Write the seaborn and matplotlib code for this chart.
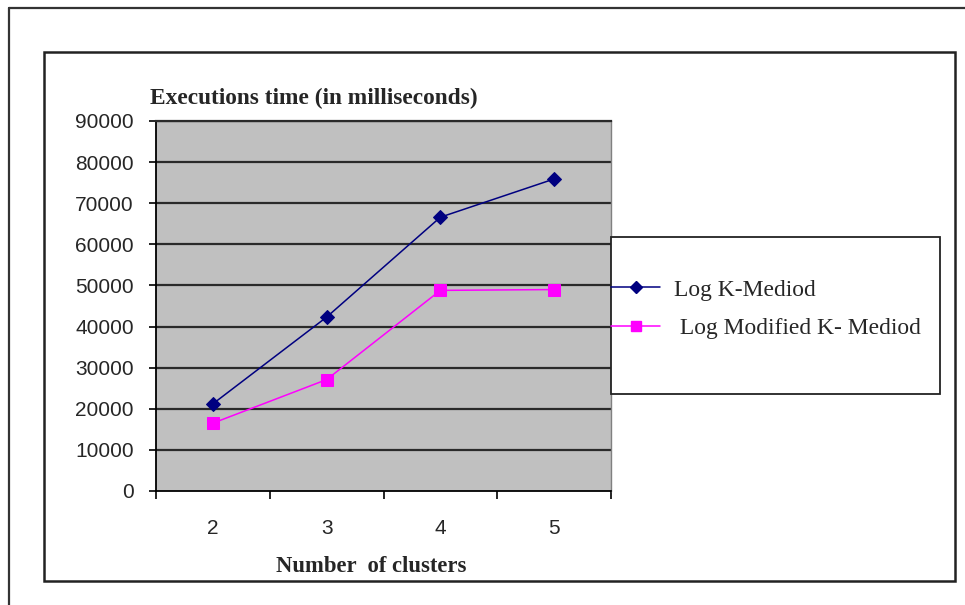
import matplotlib.pyplot as plt
import matplotlib.lines as mlines
import matplotlib.patches as mpatches
import pandas as pd
import seaborn as sns

CLUSTERS = [2, 3, 4, 5]
K_MEDIOD = [21200, 42300, 66600, 75900]
MOD_K_MEDIOD = [16500, 27100, 48800, 49000]
SERIES = ["Log K-Mediod", " Log Modified K- Mediod"]
Y_TICKS = [0, 10000, 20000, 30000, 40000, 50000, 60000, 70000, 80000, 90000]

COLORS = {SERIES[0]: "#000080", SERIES[1]: "#FF00FF"}
MARKERS = {SERIES[0]: "D", SERIES[1]: "s"}
SIZES = {SERIES[0]: 7, SERIES[1]: 8}

W, H = 965, 605


def fx(px):
    return px / W


def fy(py):
    return 1 - py / H


def main():
    df = pd.DataFrame({
        "clusters": CLUSTERS * 2,
        "time": K_MEDIOD + MOD_K_MEDIOD,
        "series": [SERIES[0]] * 4 + [SERIES[1]] * 4,
    })

    sns.set_style("white")
    fig = plt.figure(figsize=(W / 100, H / 100), dpi=100)
    ax = fig.add_axes([fx(156), fy(491), fx(611) - fx(156), fy(121) - fy(491)])
    ax.set_facecolor("#C0C0C0")

    for name in SERIES:
        sub = df[df["series"] == name]
        sns.lineplot(
            data=sub, x="clusters", y="time", ax=ax,
            color=COLORS[name], marker=MARKERS[name], markersize=SIZES[name],
            markeredgecolor=COLORS[name], linewidth=1.1, legend=False,
        )

    ax.set_xlim(1.5, 5.5)
    ax.set_ylim(0, 90000)
    ax.set_yticks(Y_TICKS)
    ax.set_yticklabels([str(v) for v in Y_TICKS], fontsize=15, family="Liberation Sans")
    ax.set_xticks([1.5, 2.5, 3.5, 4.5, 5.5])
    ax.set_xticklabels([])
    ax.set_xticks(CLUSTERS, minor=True)
    ax.set_xticklabels([str(c) for c in CLUSTERS], minor=True, fontsize=15, family="Liberation Sans")
    ax.tick_params(axis="x", which="major", direction="out", length=6, width=1.2, bottom=True, color="black")
    ax.tick_params(axis="x", which="minor", length=0, pad=20.5)
    ax.tick_params(axis="y", direction="out", length=5, width=1.2, left=True, color="black", pad=11)
    ax.set_xlabel("")
    ax.set_ylabel("")

    for y in Y_TICKS[1:]:
        ax.axhline(y, color="#2a2a2a", linewidth=1.6, zorder=1)
    for line in ax.lines:
        if line.get_marker() not in (None, "None", ""):
            line.set_zorder(3)

    ax.spines["left"].set_color("black")
    ax.spines["left"].set_linewidth(1.3)
    ax.spines["bottom"].set_color("black")
    ax.spines["bottom"].set_linewidth(1.3)
    ax.spines["right"].set_color("#808080")
    ax.spines["right"].set_linewidth(1.0)
    ax.spines["top"].set_color("#2a2a2a")
    ax.spines["top"].set_linewidth(1.6)

    fig.text(fx(150), fy(98), "Executions time (in milliseconds)", fontsize=16.8,
             fontweight="bold", family="Liberation Serif", va="center", ha="left")
    fig.text(fx(371), fy(567), "Number  of clusters", fontsize=16.3,
             fontweight="bold", family="Liberation Serif", va="center", ha="center")

    # outer and inner frames
    fig.add_artist(mlines.Line2D([fx(9), fx(9)], [0, fy(8)], color="#333333", linewidth=1.6))
    fig.add_artist(mlines.Line2D([fx(9), 1], [fy(8), fy(8)], color="#333333", linewidth=1.6))
    fig.add_artist(mpatches.Rectangle((fx(44), fy(581)), fx(955) - fx(44), fy(52) - fy(581),
                                      transform=fig.transFigure, fill=False,
                                      edgecolor="#222222", linewidth=1.8))
    # legend box
    fig.add_artist(mpatches.Rectangle((fx(611), fy(394)), fx(940) - fx(611), fy(237) - fy(394),
                                      transform=fig.transFigure, facecolor="white",
                                      edgecolor="#222222", linewidth=1.3, zorder=4))

    handles = [
        mlines.Line2D([], [], color=COLORS[n], marker=MARKERS[n], markersize=SIZES[n] - 1,
                      linewidth=1.1, label=n)
        for n in SERIES
    ]
    fig.legend(handles=handles, loc="center left", bbox_to_anchor=(fx(611), fy(309)),
               frameon=False, prop={"family": "Liberation Serif", "size": 16.9},
               handlelength=2.1, handletextpad=0.6, labelspacing=0.72,
               borderpad=0, borderaxespad=0).set_zorder(5)

    fig.savefig("out.png", dpi=100)


if __name__ == "__main__":
    main()
